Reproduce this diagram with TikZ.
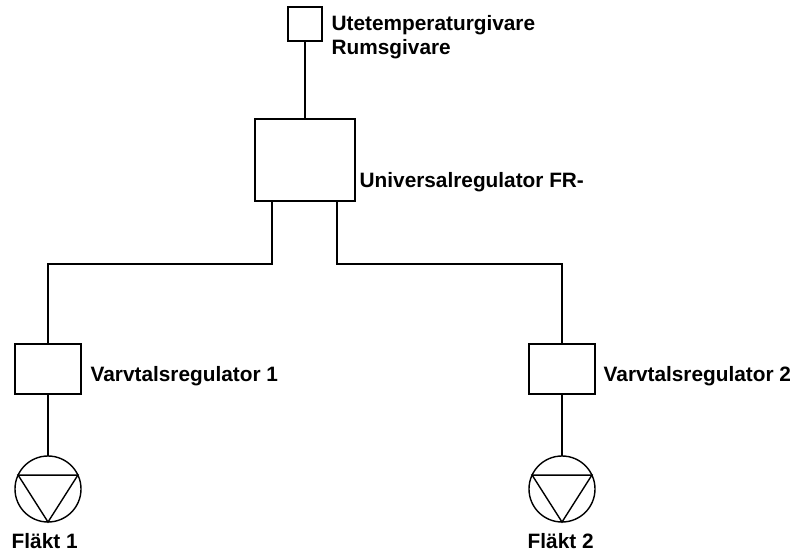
\documentclass[tikz,border=0pt]{standalone}
\usepackage{fontspec}
\setmainfont{Liberation Sans}
\begin{document}
\begin{tikzpicture}[%
		  x=1pt,y=-1pt,line width=1.4pt,
		  box/.style={draw,inner sep=0pt,outer sep=0pt},
		  fan/.style={draw,circle,inner sep=0pt,outer sep=0pt,minimum size=66pt},
		  tag/.style={inner sep=0pt,anchor=base west,font=\bfseries\fontsize{20.8}{24}\selectfont}]
		  \useasboundingbox (0,0) rectangle (795,552);
		  \node[box,minimum width=34pt,minimum height=34pt] (sensor) at (305,24) {};
		  \node[box,minimum width=100pt,minimum height=82pt] (main) at (305,160) {};
		  \node[box,minimum width=66pt,minimum height=50pt] (reg1) at (48,369) {};
		  \node[box,minimum width=66pt,minimum height=50pt] (reg2) at (562,369) {};
		  \node[fan] (fan1) at (48,489) {};
		  \node[fan] (fan2) at (562,489) {};
		  \coordinate (portL) at (272,201);
		  \coordinate (portR) at (337,201);
		  \coordinate (busL) at (272,264);
		  \coordinate (busR) at (337,264);
		  \draw (sensor.south) -- (main.north);
		  \draw (portL) -- (busL) -| (reg1.north);
		  \draw (portR) -- (busR) -| (reg2.north);
		  \draw (reg1.south) -- (fan1.north);
		  \draw (reg2.south) -- (fan2.north);
		  \draw (fan1.155) -- (fan1.25) -- (fan1.south) -- cycle;
		  \draw (fan2.155) -- (fan2.25) -- (fan2.south) -- cycle;
		  \node[tag] (sensorA) at (331,30) {Utetemperaturgivare};
		  \node[tag] (sensorB) at (331,54) {Rumsgivare};
		  \node[tag] (mainT) at (359,187) {Universalregulator FR-};
		  \node[tag] (reg1T) at (90,381) {Varvtalsregulator 1};
		  \node[tag] (reg2T) at (603,381) {Varvtalsregulator 2};
		  \node[tag] (fan1T) at (11,548) {Fläkt 1};
		  \node[tag] (fan2T) at (527,548) {Fläkt 2};
\end{tikzpicture}
\end{document}
